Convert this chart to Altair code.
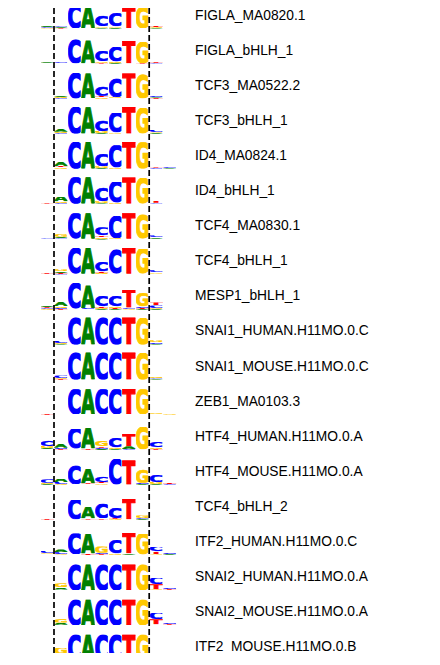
import base64

import altair as alt
import pandas as pd

NAMES = [
    "FIGLA_MA0820.1", "FIGLA_bHLH_1", "TCF3_MA0522.2", "TCF3_bHLH_1",
    "ID4_MA0824.1", "ID4_bHLH_1", "TCF4_MA0830.1", "TCF4_bHLH_1",
    "MESP1_bHLH_1", "SNAI1_HUMAN.H11MO.0.C", "SNAI1_MOUSE.H11MO.0.C",
    "ZEB1_MA0103.3", "HTF4_HUMAN.H11MO.0.A", "HTF4_MOUSE.H11MO.0.A",
    "TCF4_bHLH_2", "ITF2_HUMAN.H11MO.0.C", "SNAI2_HUMAN.H11MO.0.A",
    "SNAI2_MOUSE.H11MO.0.A", "ITF2_MOUSE.H11MO.0.B",
]

# bits per position, (A, C, G, T)
FIGLA_MA0820_1 = {-1: (0.08, 0.05, 0.04, 0.04), 0: (0.08, 0.12, 0.05, 0.04), 1: (0.03, 1.75, 0.02, 0.02),
                  2: (1.65, 0.02, 0.03, 0.02), 3: (0.04, 0.75, 0.12, 0.06), 4: (0.05, 0.95, 0.10, 0.05),
                  5: (0.02, 0.03, 0.02, 1.55), 6: (0.02, 0.02, 1.55, 0.03), 7: (0.04, 0.05, 0.05, 0.10),
                  8: (0.03, 0.02, 0.02, 0.02)}
FIGLA_BHLH_1 = {-1: (0.06, 0.03, 0.03, 0.04), 0: (0.05, 0.10, 0.03, 0.02), 1: (0.02, 1.72, 0.02, 0.02),
                2: (1.66, 0.02, 0.02, 0.02), 3: (0.04, 0.72, 0.12, 0.06), 4: (0.05, 1.05, 0.10, 0.03),
                5: (0.02, 0.02, 0.02, 1.62), 6: (0.02, 0.02, 1.50, 0.04), 7: (0.02, 0.04, 0.04, 0.12),
                8: (0.03, 0.01, 0.01, 0.06)}
TCF3_MA0522_2 = {-1: (0.03, 0.03, 0.03, 0.02), 0: (0.12, 0.05, 0.08, 0.03), 1: (0.02, 1.85, 0.02, 0.01),
                 2: (1.78, 0.02, 0.02, 0.02), 3: (0.04, 0.70, 0.08, 0.12), 4: (0.03, 1.35, 0.08, 0.03),
                 5: (0.02, 0.02, 0.02, 1.78), 6: (0.02, 0.02, 1.75, 0.02), 7: (0.05, 0.10, 0.04, 0.04),
                 8: (0.03, 0.02, 0.02, 0.02)}
TCF3_BHLH_1 = {-1: (0.02, 0.02, 0.02, 0.02), 0: (0.20, 0.05, 0.10, 0.03), 1: (0.02, 1.90, 0.02, 0.01),
               2: (1.88, 0.02, 0.02, 0.01), 3: (0.05, 0.80, 0.15, 0.03), 4: (0.03, 1.40, 0.10, 0.02),
               5: (0.01, 0.02, 0.02, 1.90), 6: (0.02, 0.02, 1.85, 0.02), 7: (0.05, 0.20, 0.05, 0.03),
               8: (0.02, 0.02, 0.02, 0.02)}
ID4_MA0824_1 = {0: (0.30, 0.05, 0.10, 0.10), 1: (0.02, 1.90, 0.02, 0.01), 2: (1.90, 0.02, 0.02, 0.01),
                3: (0.05, 0.90, 0.15, 0.03), 4: (0.03, 1.60, 0.08, 0.02), 5: (0.01, 0.02, 0.02, 1.90),
                6: (0.02, 0.02, 1.88, 0.02), 7: (0.03, 0.05, 0.05, 0.10), 8: (0.04, 0.08, 0.02, 0.02)}
ID4_BHLH_1 = {-1: (0.01, 0.01, 0.01, 0.05), 0: (0.35, 0.05, 0.12, 0.04), 1: (0.02, 1.90, 0.02, 0.01),
              2: (1.90, 0.02, 0.02, 0.01), 3: (0.05, 1.00, 0.15, 0.03), 4: (0.03, 1.50, 0.08, 0.02),
              5: (0.01, 0.02, 0.02, 1.88), 6: (0.02, 0.02, 1.85, 0.02), 7: (0.03, 0.05, 0.05, 0.15),
              8: (0.02, 0.02, 0.02, 0.02)}
TCF4_MA0830_1 = {-1: (0.02, 0.05, 0.02, 0.03), 0: (0.12, 0.05, 0.20, 0.03), 1: (0.02, 1.83, 0.02, 0.01),
                 2: (1.83, 0.02, 0.02, 0.01), 3: (0.05, 0.60, 0.12, 0.12), 4: (0.02, 1.60, 0.06, 0.02),
                 5: (0.01, 0.02, 0.02, 1.83), 6: (0.02, 0.02, 1.75, 0.02), 7: (0.06, 0.15, 0.06, 0.03),
                 8: (0.02, 0.02, 0.02, 0.02)}
TCF4_BHLH_1 = {-1: (0.03, 0.01, 0.01, 0.06), 0: (0.12, 0.04, 0.15, 0.08), 1: (0.02, 1.85, 0.02, 0.01),
               2: (1.85, 0.02, 0.02, 0.01), 3: (0.03, 0.70, 0.10, 0.10), 4: (0.02, 1.75, 0.03, 0.02),
               5: (0.01, 0.02, 0.02, 1.85), 6: (0.02, 0.02, 1.80, 0.02), 7: (0.05, 0.15, 0.08, 0.03),
               8: (0.02, 0.02, 0.02, 0.02)}
MESP1_BHLH_1 = {-1: (0.10, 0.06, 0.05, 0.08), 0: (0.30, 0.08, 0.12, 0.05), 1: (0.03, 1.85, 0.02, 0.02),
                2: (1.65, 0.08, 0.02, 0.02), 3: (0.05, 0.75, 0.08, 0.10), 4: (0.05, 0.75, 0.10, 0.08),
                5: (0.02, 0.08, 0.05, 1.30), 6: (0.05, 0.10, 1.00, 0.08), 7: (0.05, 0.20, 0.06, 0.22),
                8: (0.03, 0.03, 0.02, 0.03)}
SNAI1_HUMAN = {0: (0.05, 0.15, 0.06, 0.02), 1: (0.01, 1.95, 0.01, 0.01), 2: (1.95, 0.01, 0.01, 0.01),
               3: (0.01, 1.95, 0.01, 0.01), 4: (0.01, 1.95, 0.01, 0.01), 5: (0.01, 0.01, 0.01, 1.95),
               6: (0.01, 0.01, 1.90, 0.01), 7: (0.04, 0.12, 0.15, 0.02)}
SNAI1_MOUSE = {0: (0.02, 0.20, 0.06, 0.05), 1: (0.01, 1.95, 0.01, 0.01), 2: (1.95, 0.01, 0.01, 0.01),
               3: (0.01, 1.95, 0.01, 0.01), 4: (0.01, 1.95, 0.01, 0.01), 5: (0.01, 0.01, 0.01, 1.95),
               6: (0.01, 0.01, 1.90, 0.01), 7: (0.04, 0.05, 0.12, 0.02)}
ZEB1_MA0103_3 = {-1: (0.01, 0.01, 0.01, 0.04), 0: (0.02, 0.02, 0.02, 0.02), 1: (0.02, 1.78, 0.02, 0.02),
                 2: (1.78, 0.02, 0.02, 0.03), 3: (0.02, 1.78, 0.02, 0.03), 4: (0.02, 1.78, 0.03, 0.02),
                 5: (0.02, 0.03, 0.02, 1.82), 6: (0.02, 0.02, 1.78, 0.02), 7: (0.03, 0.05, 0.08, 0.02),
                 8: (0.01, 0.01, 0.04, 0.01)}
HTF4_HUMAN = {-1: (0.10, 0.40, 0.15, 0.05), 0: (0.30, 0.10, 0.03, 0.05), 1: (0.02, 1.45, 0.03, 0.05),
              2: (1.50, 0.02, 0.02, 0.08), 3: (0.08, 0.10, 0.40, 0.10), 4: (0.05, 0.70, 0.12, 0.03),
              5: (0.20, 0.05, 0.03, 0.90), 6: (0.02, 0.02, 1.60, 0.03), 7: (0.03, 0.40, 0.12, 0.06),
              8: (0.02, 0.03, 0.02, 0.05)}
HTF4_MOUSE = {-1: (0.05, 0.25, 0.10, 0.03), 0: (0.25, 0.15, 0.05, 0.03), 1: (0.03, 1.35, 0.03, 0.03),
              2: (1.05, 0.03, 0.03, 0.08), 3: (0.05, 0.40, 0.08, 0.10), 4: (0.02, 1.85, 0.02, 0.02),
              5: (0.02, 0.02, 0.02, 1.75), 6: (0.05, 0.10, 1.00, 0.03), 7: (0.05, 0.50, 0.15, 0.03),
              8: (0.02, 0.05, 0.02, 0.10)}
TCF4_BHLH_2 = {-1: (0.01, 0.01, 0.01, 0.05), 0: (0.02, 0.02, 0.02, 0.02), 1: (0.03, 1.40, 0.03, 0.02),
               2: (0.85, 0.03, 0.03, 0.08), 3: (0.03, 1.05, 0.03, 0.10), 4: (0.03, 0.75, 0.05, 0.08),
               5: (0.03, 0.03, 0.03, 1.45), 6: (0.05, 0.08, 0.20, 0.03), 7: (0.02, 0.02, 0.02, 0.02)}
ITF2_HUMAN = {-1: (0.05, 0.20, 0.08, 0.02), 0: (0.20, 0.15, 0.05, 0.03), 1: (0.02, 1.50, 0.03, 0.03),
              2: (1.40, 0.02, 0.02, 0.10), 3: (0.05, 0.10, 0.45, 0.05), 4: (0.03, 1.00, 0.08, 0.03),
              5: (0.10, 0.03, 0.03, 1.45), 6: (0.02, 0.02, 1.50, 0.03), 7: (0.03, 0.35, 0.05, 0.20),
              8: (0.05, 0.10, 0.04, 0.02)}
SNAI2_HUMAN = {-1: (0.01, 0.01, 0.01, 0.01), 0: (0.15, 0.05, 0.30, 0.02), 1: (0.01, 1.85, 0.01, 0.01),
               2: (1.85, 0.01, 0.01, 0.01), 3: (0.01, 1.85, 0.01, 0.01), 4: (0.01, 1.85, 0.01, 0.01),
               5: (0.01, 0.01, 0.01, 1.85), 6: (0.01, 0.01, 1.85, 0.01), 7: (0.03, 0.45, 0.05, 0.38),
               8: (0.03, 0.12, 0.03, 0.06)}
SNAI2_MOUSE = {-2: (0.03, 0.02, 0.02, 0.01), -1: (0.02, 0.02, 0.02, 0.01), 0: (0.15, 0.05, 0.30, 0.02),
               1: (0.01, 1.85, 0.01, 0.01), 2: (1.85, 0.01, 0.01, 0.01), 3: (0.01, 1.85, 0.01, 0.01),
               4: (0.01, 1.85, 0.01, 0.01), 5: (0.01, 0.01, 0.01, 1.85), 6: (0.01, 0.01, 1.85, 0.01),
               7: (0.03, 0.45, 0.05, 0.38), 8: (0.03, 0.12, 0.03, 0.06)}
ITF2_MOUSE = {-1: (0.01, 0.01, 0.01, 0.06), 0: (0.42, 0.02, 0.45, 0.02), 1: (0.01, 1.85, 0.01, 0.01),
              2: (1.85, 0.01, 0.01, 0.01), 3: (0.01, 1.85, 0.01, 0.01), 4: (0.01, 1.85, 0.01, 0.01),
              5: (0.01, 0.01, 0.01, 1.85), 6: (0.01, 0.01, 1.85, 0.01), 7: (0.02, 0.02, 0.12, 0.08)}

MOTIFS = [FIGLA_MA0820_1, FIGLA_BHLH_1, TCF3_MA0522_2, TCF3_BHLH_1, ID4_MA0824_1, ID4_BHLH_1,
          TCF4_MA0830_1, TCF4_BHLH_1, MESP1_BHLH_1, SNAI1_HUMAN, SNAI1_MOUSE, ZEB1_MA0103_3,
          HTF4_HUMAN, HTF4_MOUSE, TCF4_BHLH_2, ITF2_HUMAN, SNAI2_HUMAN, SNAI2_MOUSE, ITF2_MOUSE]

LETTERS = ["A", "C", "G", "T"]
CORE_BOUNDS = [-0.5, 6.5]

COLORS = {"A": "#008000", "C": "#0000ff", "G": "#ffc800", "T": "#ff0000"}

# layout in pixels (plot area = whole chart, no padding)
W, H = 424, 645
COL_PX = 13.6
LEFT_DASH_PX = 46.0
BIT_PX = 14.0
ROW_PX = 35.1
BASE0_PX = 21.0
LABEL_UP_PX = 13.5

ROW_BITS = ROW_PX / BIT_PX
x_lo = -0.5 - LEFT_DASH_PX / COL_PX
y_hi = BASE0_PX / BIT_PX
xs = alt.Scale(domain=[x_lo, x_lo + W / COL_PX], nice=False, zero=False)
ys = alt.Scale(domain=[y_hi - H / BIT_PX, y_hi], nice=False, zero=False)


def glyph(letter):
    # a stretchable letter: the svg fills whatever box the image mark gives it
    c = COLORS[letter]
    svg = (
        '<svg xmlns="http://www.w3.org/2000/svg" width="100" height="75" '
        'viewBox="3 -74 94 75.5" preserveAspectRatio="none">'
        f'<text x="0" y="0" textLength="100" lengthAdjust="spacingAndGlyphs" '
        f'font-family="DejaVu Sans" font-weight="bold" font-size="100" '
        f'fill="{c}" stroke="{c}" stroke-width="4">{letter}</text></svg>'
    )
    return "data:image/svg+xml;base64," + base64.b64encode(svg.encode()).decode()


GLYPHS = {k: glyph(k) for k in LETTERS}

records = []
for r, motif in enumerate(MOTIFS):
    for pos, vals in motif.items():
        for letter, h in zip(LETTERS, vals):
            records.append({"row": r, "pos": pos, "letter": letter, "h": h, "url": GLYPHS[letter]})
logo_df = pd.DataFrame(records)
label_df = pd.DataFrame({"row": range(len(NAMES)), "name": NAMES})
bound_df = pd.DataFrame({"b": CORE_BOUNDS})

letters = (
    alt.Chart(logo_df)
    .transform_stack(
        stack="h", groupby=["row", "pos"], as_=["s0", "s1"],
        sort=[alt.SortField("h", order="ascending")],
    )
    .transform_calculate(
        y0=f"datum.s0 - datum.row * {ROW_BITS}",
        y1=f"datum.s1 - datum.row * {ROW_BITS}",
        x0="datum.pos - 0.49",
        x1="datum.pos + 0.49",
    )
    .mark_image(aspect=False)
    .encode(
        x=alt.X("x0:Q", scale=xs, axis=None),
        x2="x1:Q",
        y=alt.Y("y0:Q", scale=ys, axis=None),
        y2="y1:Q",
        url="url:N",
    )
)

labels = (
    alt.Chart(label_df)
    .transform_calculate(ly=f"{LABEL_UP_PX / BIT_PX} - datum.row * {ROW_BITS}")
    .mark_text(align="left", baseline="middle", font="Liberation Sans", fontSize=13.8, color="black")
    .encode(x=alt.value(187), y=alt.Y("ly:Q", scale=ys, axis=None), text="name:N")
)

dashes = (
    alt.Chart(bound_df)
    .mark_rule(color="black", strokeWidth=1.7, strokeDash=[6, 3])
    .encode(x=alt.X("b:Q", scale=xs, axis=None))
)

chart = (
    alt.layer(letters, dashes, labels)
    .properties(width=W, height=H, padding=0, autosize=alt.AutoSizeParams(type="none"))
    .configure_view(stroke=None)
)

chart.save("out.html", embed_options={"renderer": "svg", "actions": False})
